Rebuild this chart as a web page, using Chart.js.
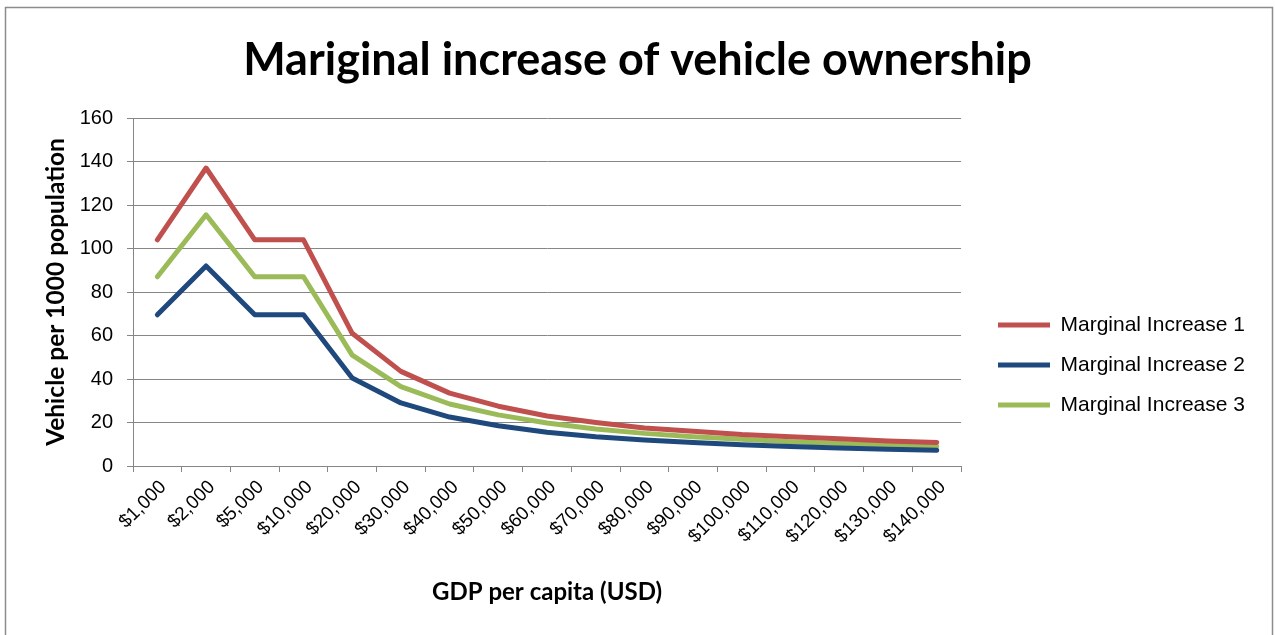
<!DOCTYPE html>
<html>
<head>
<meta charset="utf-8">
<script src="https://cdn.jsdelivr.net/npm/chart.js@4"></script>
<style>
  html, body { margin: 0; padding: 0; background: #ffffff; }
  #wrap { width: 1275px; height: 635px; position: relative; }
</style>
</head>
<body>
<div id="wrap"><canvas id="c" width="1275" height="635"></canvas></div>
<script>
const categories = ["$1,000","$2,000","$5,000","$10,000","$20,000","$30,000","$40,000","$50,000","$60,000","$70,000","$80,000","$90,000","$100,000","$110,000","$120,000","$130,000","$140,000"];
const marginal1 = [104, 137, 104, 104, 61, 43.5, 33.5, 27.5, 23, 20, 17.5, 16, 14.5, 13.5, 12.5, 11.5, 10.8];
const marginal2 = [69.5, 92, 69.5, 69.5, 40.5, 29, 22.5, 18.5, 15.5, 13.5, 12, 10.8, 9.8, 9, 8.3, 7.7, 7.2];
const marginal3 = [87, 115.5, 87, 87, 51, 36.5, 28.5, 23.5, 19.8, 17, 15, 13.5, 12.3, 11.2, 10.3, 9.6, 9];
const seriesNames = ["Marginal Increase 1", "Marginal Increase 2", "Marginal Increase 3"];
const yTicks = [0, 20, 40, 60, 80, 100, 120, 140, 160];

const GRID = '#868686';

const framePlugin = {
  id: 'frame',
  beforeDraw(chart) {
    const ctx = chart.ctx;
    ctx.save();
    ctx.fillStyle = '#ffffff';
    ctx.fillRect(0, 0, chart.width, chart.height);
    ctx.strokeStyle = '#8c8c8c';
    ctx.lineWidth = 1.5;
    ctx.strokeRect(5.5, 7.5, 1267, 640);
    ctx.restore();
  }
};

const legendPlace = {
  id: 'legendPlace',
  afterLayout(chart) {
    const lg = chart.legend;
    if (!lg) return;
    const w = lg.width;
    lg.left = 979;
    lg.right = lg.left + w;
    lg.top = 295.5;
    lg.bottom = lg.top + 220;
  }
};

function ds(label, data, color) {
  return {
    label, data,
    borderColor: color,
    backgroundColor: color,
    borderWidth: 5,
    pointRadius: 0,
    pointHoverRadius: 0,
    tension: 0,
    borderCapStyle: 'round',
    borderJoinStyle: 'round',
    fill: false
  };
}

new Chart(document.getElementById('c'), {
  type: 'line',
  data: {
    labels: categories,
    datasets: [
      ds(seriesNames[0], marginal1, '#C0504D'),
      ds(seriesNames[1], marginal2, '#1F497D'),
      ds(seriesNames[2], marginal3, '#9BBB59')
    ]
  },
  plugins: [framePlugin, legendPlace],
  options: {
    responsive: false,
    devicePixelRatio: 1,
    animation: false,
    events: [],
    layout: { padding: { left: 38, right: 38, top: 0, bottom: 0 } },
    plugins: {
      title: {
        display: true,
        text: 'Mariginal increase of vehicle ownership',
        color: '#000000',
        font: { family: 'Lato', size: 45, weight: 'bold', lineHeight: 1.2 },
        padding: { top: 33, bottom: 31 }
      },
      legend: {
        display: true,
        position: 'right',
        align: 'start',
        maxWidth: 280,
        labels: {
          usePointStyle: true,
          pointStyle: 'line',
          pointStyleWidth: 52,
          color: '#000000',
          font: { family: 'Liberation Sans', size: 21 },
          padding: 19
        }
      },
      tooltip: { enabled: false }
    },
    scales: {
      x: {
        type: 'category',
        offset: true,
        border: { display: true, color: GRID, width: 1 },
        grid: { display: true, drawOnChartArea: false, drawTicks: true, tickLength: 6, offset: true, color: GRID },
        ticks: {
          autoSkip: false,
          maxRotation: 45,
          minRotation: 45,
          color: '#000000',
          font: { family: 'Liberation Sans', size: 19 },
          padding: 4,
          labelOffset: 6
        },
        title: {
          display: true,
          text: 'GDP per capita (USD)',
          color: '#000000',
          font: { family: 'Lato', size: 24, weight: 'bold', lineHeight: 1.2 },
          padding: { top: 0, bottom: 28 }
        },
        afterFit(scale) { scale.height = 169; }
      },
      y: {
        min: 0,
        max: 160,
        border: { display: true, color: GRID, width: 1 },
        grid: { display: true, color: GRID, lineWidth: 1, tickLength: 6, drawTicks: true },
        afterBuildTicks(scale) { scale.ticks = yTicks.map(v => ({ value: v })); },
        ticks: {
          color: '#000000',
          font: { family: 'Liberation Sans', size: 20 },
          padding: 14
        },
        title: {
          display: true,
          text: 'Vehicle per 1000 population',
          color: '#000000',
          font: { family: 'Lato', size: 24.5, weight: 'bold', lineHeight: 1.2 },
          padding: { top: 3, bottom: 0 }
        },
        afterFit(scale) { scale.width = 95; }
      }
    }
  }
});
</script>
</body>
</html>
